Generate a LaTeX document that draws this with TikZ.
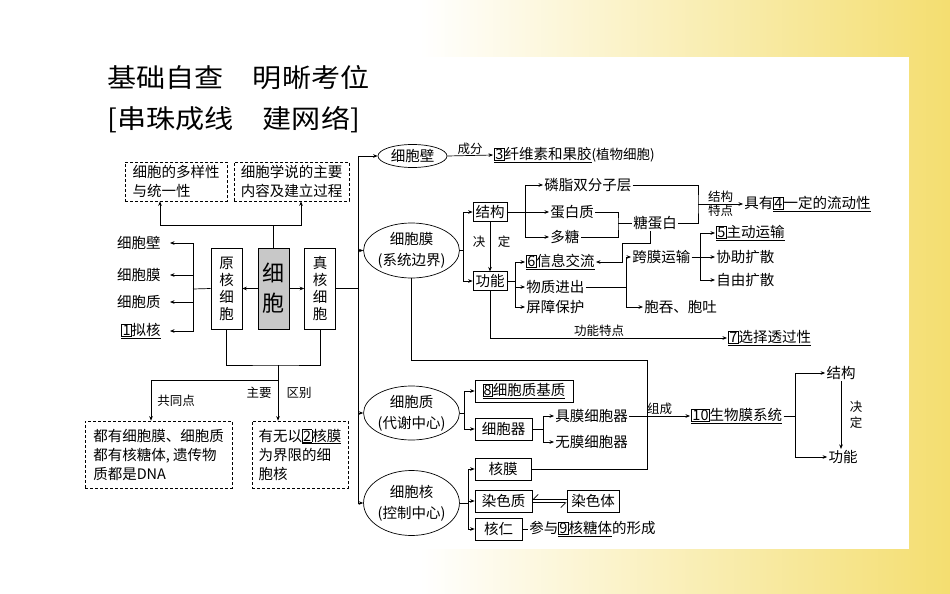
\documentclass[tikz,border=0pt]{standalone}
\usepackage{fontspec}
\usepackage{graphicx}
\setmainfont{Noto Sans CJK SC}
\newfontfamily\heiti{Noto Sans CJK SC}
\usetikzlibrary{shapes.geometric,arrows.meta}

\definecolor{bgyellow}{RGB}{244,222,112}
\definecolor{cellgray}{RGB}{200,200,200}

\newcommand{\bnum}[1]{{\setlength{\fboxsep}{0.6pt}\setlength{\fboxrule}{0.5pt}\fbox{#1}}}

\tikzset{
  every node/.style={font=\fontsize{14.5}{19}\selectfont, inner sep=1pt},
  arr/.style={-{Stealth[length=4.5pt,width=3.6pt]}},
  box/.style={draw, inner sep=2.5pt},
  dbox/.style={draw, dash pattern=on 3pt off 2pt, align=left, inner sep=3pt},
  vbox/.style={draw, minimum width=31pt, minimum height=81pt, align=center,
    font=\fontsize{14.5}{17}\selectfont},
  oval/.style={draw, ellipse, inner sep=0pt, align=center,
    font=\fontsize{14.5}{21}\selectfont},
  tag/.style={font=\fontsize{12.5}{15}\selectfont},
  ttl/.style={anchor=west, inner sep=0pt, font=\heiti\fontsize{26}{30}\selectfont},
}

\begin{document}
\begin{tikzpicture}[x=1pt, y=-1pt, line width=0.7pt]
    \useasboundingbox (0,0) rectangle (950,594);

    %% Background
    \fill[white] (0,0) rectangle (950,594);
    \shade[left color=white, right color=bgyellow] (420,0) rectangle (950,594);
    \fill[white] (0,57) rectangle (909,549);

    %% Title
    \node[ttl] (title) at (107,78) {\scalebox{1.12}[1]{基础自查\hspace{1em}明晰考位}};
    \node[ttl] (subtitle) at (107,120) {\scalebox{1.12}[1]{[串珠成线\hspace{1em}建网络]}};

    %% Cell and its two kinds
    \node[vbox, fill=cellgray, font=\fontsize{22}{30}\selectfont] (cell) at (273.5,288.5) {细\\胞};
    \node[vbox] (prok) at (226.5,288.5) {原\\核\\细\\胞};
    \node[vbox] (euk) at (320,288.5) {真\\核\\细\\胞};
    \draw[arr] (cell.west) -- (prok.east);
    \draw[arr] (cell.east) -- (euk.west);

    % Dashed boxes on top
    \node[dbox, minimum width=102pt, minimum height=39pt] (divA) at (176,181.5) {细胞的多样性\\与统一性};
    \node[dbox, minimum width=115pt, minimum height=39pt] (divB) at (291.5,181.5) {细胞学说的主要\\内容及建立过程};
    \coordinate (tj) at (273.5,225);
    \draw (cell.north) -- (tj);
    \draw[arr] (tj) -| ([xshift=-16pt]divA.south);
    \draw[arr] (tj) -| ([xshift=9.5pt]divB.south);

    % Prokaryote parts
    \node[anchor=east] (pwall) at (162,243) {细胞壁};
    \node[anchor=east] (pmem) at (162,275) {细胞膜};
    \node[anchor=east] (pcyt) at (162,302) {细胞质};
    \node[anchor=east] (pnuc) at (162,331) {\underline{\bnum{1}拟核}};
    \coordinate (lj) at (193,289);
    \draw (prok.west) -- (lj);
    \foreach \n in {pwall,pmem,pcyt,pnuc}
        \draw[arr, shorten >=8pt] (lj) |- (\n.east);

    % Dashed boxes at the bottom
    \node[dbox, minimum width=147pt, minimum height=67pt] (comm) at (158.5,454.5) {都有细胞膜、细胞质\\都有核糖体, 遗传物\\质都是DNA};
    \node[dbox, minimum width=96pt, minimum height=67pt] (diff) at (300,454.5) {有无以\underline{\bnum{2}核膜}\\为界限的细\\胞核};
    \coordinate (bj) at (278,365);
    \coordinate (bk) at (278,380);
    \draw (prok.south) |- (bj) -| (euk.south);
    \draw[arr] (bj) -- (bj |- diff.north);
    \draw[arr] (bk) -| ([xshift=-7.5pt]comm.north);
    \node[tag, anchor=west] (same) at (156,401) {共同点};
    \node[tag] (mainA) at (259,393) {主要};
    \node[tag] (mainB) at (299,393) {区别};

    %% Eukaryote parts
    \coordinate (mx) at (358,0);
    \node[oval, minimum width=69pt, minimum height=23pt] (wallov) at (412.5,156) {细胞壁};
    \node[oval, minimum width=88pt, minimum height=55pt] (memov) at (411.5,250.5) {细胞膜\\(系统边界)};
    \node[oval, minimum width=88pt, minimum height=54pt] (cytov) at (411.5,413) {细胞质\\(代谢中心)};
    \node[oval, minimum width=88pt, minimum height=65pt] (nucov) at (411.5,503) {细胞核\\(控制中心)};
    \draw (euk.east) -- (euk.east -| mx);
    \draw (wallov.west -| mx) -- (nucov.west -| mx);
    \foreach \n in {wallov,memov,cytov,nucov}
        \draw[arr] (\n.west -| mx) -- (\n.west);

    % Cell wall
    \node[anchor=west] (cw) at (493,155) {\underline{\bnum{3}纤维素和果胶}{\fontsize{13.5}{15}\selectfont (植物细胞)}};
    \draw[arr] (wallov.east) -- (cw.west) node[midway, above, tag] (cwlab) {成分};

    % Cell membrane
    \node[box] (struct) at (490,212) {结构};
    \node[box] (func) at (490,281) {功能};
    \coordinate (mj) at (463,250.5);
    \draw (memov.east) -- (mj);
    \draw[arr] (mj) |- (struct.west);
    \draw[arr] (mj) |- (func.west);
    \draw[arr] (struct) -- (func);
    \node[tag] (decA) at (479,242) {决};
    \node[tag] (decB) at (504,242) {定};

    \node[anchor=west] (lipid) at (543,185) {磷脂双分子层};
    \node[anchor=west] (prot) at (549,212) {蛋白质};
    \node[anchor=west] (poly) at (549,237) {多糖};
    \node (glyco) at (655,223) {糖蛋白};
    \coordinate (sj) at (525,212);
    \draw (struct.east) -- (sj);
    \foreach \n in {lipid,prot,poly}
        \draw[arr] (sj) |- (\n.west);
    \coordinate (gj) at (618,223);
    \draw (prot.east) -| (gj) |- (poly.east);
    \draw (gj) -- (glyco.west);

    \node[anchor=west] (flu) at (743,204) {具有\underline{\bnum{4}一定的流动性}};
    \coordinate (fj) at (698,204);
    \draw (lipid.east) -| (fj) |- (glyco.east);
    \draw[arr] (fj) -- (flu.west) node[midway, above, tag] (flA) {结构}
        node[midway, below, tag] (flB) {特点};

    \node[anchor=west] (info) at (525,262) {\underline{\bnum{6}信息交流}};
    \node[anchor=west] (mat) at (525,287) {物质进出};
    \node[anchor=west] (barr) at (525,307) {屏障保护};
    \coordinate (fj2) at (515,281);
    \draw (func.east) -- (fj2);
    \foreach \n in {info,mat,barr}
        \draw[arr] (fj2) |- (\n.west);
    \coordinate (ij) at (622,243);
    \draw[arr] ([xshift=-5pt]glyco.south) |- (ij) |- (info.east);

    \node[anchor=west] (trans) at (631,257) {跨膜运输};
    \node[anchor=west] (endo) at (643,307) {胞吞、胞吐};
    \coordinate (xj) at (626,287);
    \draw (mat.east) -- (xj);
    \draw[arr] (xj) |- (trans.west);
    \draw[arr] (xj) |- (endo.west);

    \node[anchor=west] (act) at (715,233) {\underline{\bnum{5}主动运输}};
    \node[anchor=west] (fac) at (715,257) {协助扩散};
    \node[anchor=west] (free) at (715,280) {自由扩散};
    \coordinate (kj) at (700,257);
    \draw (trans.east) -- (kj);
    \foreach \n in {act,fac,free}
        \draw[arr] (kj) |- (\n.west);

    \node[anchor=west] (sel) at (727,338) {\underline{\bnum{7}选择透过性}};
    \draw[arr] (func.south) |- (sel.west) node[pos=0.73, above, tag] (sellab) {功能特点};

    % Cytoplasm
    \node[box, minimum width=98pt, minimum height=22pt] (matrix) at (524,391) {\underline{\bnum{8}细胞质基质}};
    \node[box, minimum width=57pt, minimum height=22pt] (organ) at (503.5,429) {细胞器};
    \coordinate (yj) at (464,413);
    \draw (cytov.east) -- (yj);
    \draw[arr] (yj) |- (matrix.west);
    \draw[arr] (yj) |- (organ.west);

    \node[anchor=west] (orgA) at (554,416) {具膜细胞器};
    \node[anchor=west] (orgB) at (554,442) {无膜细胞器};
    \coordinate (oj) at (543,429);
    \draw (organ.east) -- (oj);
    \draw[arr] (oj) |- (orgA.west);
    \draw[arr] (oj) |- (orgB.west);

    % Biomembrane system
    \node[anchor=west] (sys) at (690,416) {\underline{\bnum{10}生物膜系统}};
    \draw[arr] (orgA.east) -- (sys.west) node[midway, above, tag] (sysl) {组成};
    \node (st2) at (841,373) {结构};
    \node (fn2) at (843,457) {功能};
    \coordinate (zj) at (795,416);
    \draw (sys.east) -- (zj);
    \draw[arr] (zj) |- (st2.west);
    \draw[arr] (zj) |- (fn2.west);
    \draw[arr] (st2.south) -- (st2.south |- fn2.north);
    \node[tag, align=center, font=\fontsize{12.5}{16}\selectfont] (dec2) at (856,415) {决\\定};

    % Nucleus
    \node[box, minimum width=56pt, minimum height=22pt] (nucm) at (503,469) {核膜};
    \node[box, minimum width=57pt, minimum height=22pt] (chrq) at (503.5,501) {染色质};
    \node[box, minimum width=52pt, minimum height=22pt] (chrt) at (593,501) {染色体};
    \node[box, minimum width=47pt, minimum height=22pt] (nucl) at (498.5,529) {核仁};
    \node[anchor=west] (part) at (528,529) {参与\underline{\bnum{9}核糖体}的形成};
    \coordinate (nj) at (468,503);
    \draw (nucov.east) -- (nj);
    \foreach \n in {nucm,chrq,nucl}
        \draw[arr] (nj) |- (\n.west);
    \draw[-{Straight Barb[harpoon,swap,length=5pt]}] ([yshift=1.6pt]chrt.west) -- ([yshift=1.6pt]chrq.east);
    \draw[-{Straight Barb[harpoon,swap,length=5pt]}] ([yshift=-1.6pt]chrq.east) -- ([yshift=-1.6pt]chrt.west);
    \draw (nucl.east) -- (part.west);

    % Membrane system links
    \coordinate (cj) at (647,360);
    \draw (memov.south) |- (cj) |- (nucm.east);

\end{tikzpicture}
\end{document}
